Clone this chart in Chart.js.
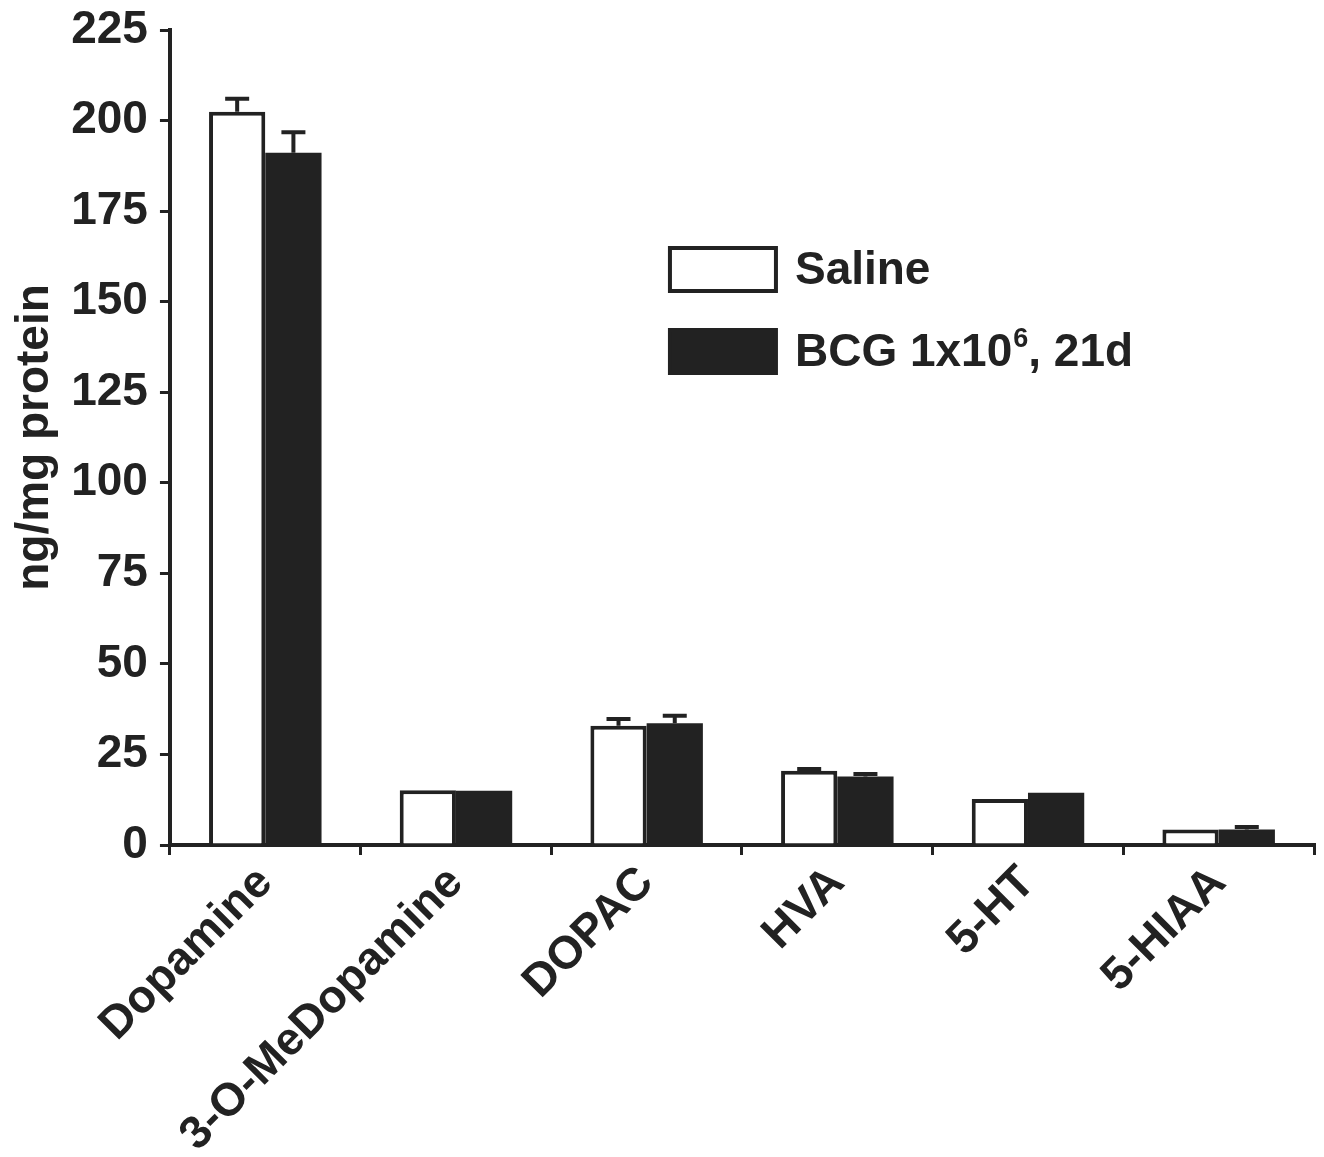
<!DOCTYPE html>
<html>
<head>
<meta charset="utf-8">
<script src="https://cdn.jsdelivr.net/npm/chart.js@4.4.1/dist/chart.umd.min.js"></script>
<style>
  html, body { margin: 0; padding: 0; background: #fff; }
  #wrap { width: 1324px; height: 1157px; }
</style>
</head>
<body>
<div id="wrap"><canvas id="chart"></canvas></div>
<script>
// values (ng/mg protein)
const categories = ['Dopamine', '3-O-MeDopamine', 'DOPAC', 'HVA', '5-HT', '5-HIAA'];
const seriesLabels = ['Saline', 'BCG 1x10⁶, 21d'];
const salineValues = [202.4, 15.1, 32.9, 20.5, 12.7, 4.3];
const salineErrors = [206.0, null, 34.8, 21.0, null, null];
const bcgValues = [191.1, 15.0, 33.6, 18.9, 14.4, 4.3];
const bcgErrors = [196.8, null, 35.7, 19.6, null, 5.0];
const yTicks = [0, 25, 50, 75, 100, 125, 150, 175, 200, 225];

const ink = '#222';
const font = { family: "'Liberation Sans', Arial, sans-serif", size: 46, weight: 'bold' };

// upper error bars with a cap
const errorBars = {
    id: 'errorBars',
    afterDatasetsDraw: (chart) => {
        const { ctx, scales: { y } } = chart;
        ctx.save();
        ctx.strokeStyle = ink;
        ctx.lineWidth = 4;
        chart.data.datasets.forEach((ds, i) => {
            const meta = chart.getDatasetMeta(i);
            meta.data.forEach((bar, j) => {
                const e = ds.errors[j];
                if (e == null) return;
                const ye = y.getPixelForValue(e);
                ctx.beginPath();
                ctx.moveTo(bar.x, bar.y);
                ctx.lineTo(bar.x, ye);
                ctx.moveTo(bar.x - 12, ye);
                ctx.lineTo(bar.x + 12, ye);
                ctx.stroke();
            });
        });
        ctx.restore();
    }
};

// legend drawn inside the plot, with superscript digits
const boxLegend = {
    id: 'boxLegend',
    afterDraw: (chart) => {
        const { ctx, chartArea } = chart;
        const sup = '⁰¹²³⁴⁵⁶⁷⁸⁹';
        const x0 = chartArea.left + 500;
        ctx.save();
        chart.data.datasets.forEach((ds, i) => {
            const top = chartArea.top + 218 + i * 82;
            ctx.fillStyle = ds.backgroundColor;
            ctx.fillRect(x0, top, 106, 43);
            ctx.strokeStyle = ink;
            ctx.lineWidth = 4;
            ctx.strokeRect(x0, top, 106, 43);

            let tx = x0 + 125;
            const ty = top + 23;
            ctx.fillStyle = ink;
            ctx.textBaseline = 'middle';
            for (const ch of ds.label) {
                const k = sup.indexOf(ch);
                if (k >= 0) {
                    ctx.font = `bold 27px ${font.family}`;
                    ctx.fillText(String(k), tx + 1, ty - 13);
                    tx += ctx.measureText(String(k)).width + 1;
                } else {
                    ctx.font = `bold ${font.size}px ${font.family}`;
                    ctx.fillText(ch, tx, ty);
                    tx += ctx.measureText(ch).width;
                }
            }
        });
        ctx.restore();
    }
};

new Chart(document.getElementById('chart'), {
    type: 'bar',
    data: {
        labels: categories,
        datasets: [
            {
                label: seriesLabels[0],
                data: salineValues,
                errors: salineErrors,
                backgroundColor: '#ffffff',
                borderColor: ink,
                borderWidth: 4,
            },
            {
                label: seriesLabels[1],
                data: bcgValues,
                errors: bcgErrors,
                backgroundColor: ink,
                borderColor: ink,
                borderWidth: 0,
            },
        ],
    },
    options: {
        responsive: true,
        maintainAspectRatio: false,
        animation: false,
        datasets: { bar: { categoryPercentage: 0.59, barPercentage: 1 } },
        layout: { padding: { left: 0, right: 10, top: 0, bottom: 0 } },
        plugins: { legend: { display: false }, tooltip: { enabled: false } },
        scales: {
            x: {
                afterFit: (axis) => { axis.height = 312; },
                grid: { drawOnChartArea: false, drawTicks: true, tickLength: 10, color: ink, lineWidth: 3 },
                border: { display: true, color: ink, width: 4 },
                ticks: { color: ink, font: font, maxRotation: 45, minRotation: 45, padding: 1 },
            },
            y: {
                min: 0,
                max: 225,
                afterBuildTicks: (axis) => { axis.ticks = yTicks.map(v => ({ value: v })); },
                afterFit: (axis) => { axis.paddingTop = 30; },
                grid: { drawOnChartArea: false, drawTicks: true, tickLength: 10, color: ink, lineWidth: 3 },
                border: { display: true, color: ink, width: 4 },
                ticks: { color: ink, font: font, padding: 12 },
                title: { display: true, text: 'ng/mg protein', color: ink, font: font, padding: { top: 8, bottom: -4 } },
            },
        },
    },
    plugins: [errorBars, boxLegend],
});
</script>
</body>
</html>
